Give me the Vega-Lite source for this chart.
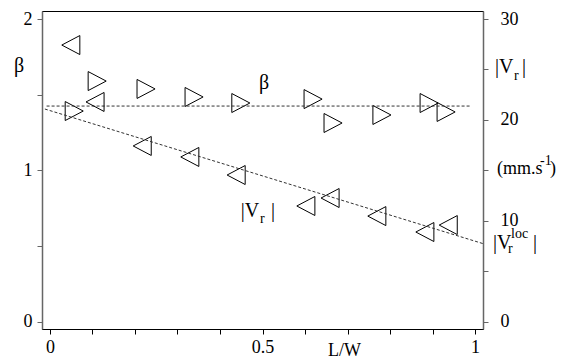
{
  "$schema": "https://vega.github.io/schema/vega-lite/v6.json",
  "width": 441,
  "height": 318,
  "autosize": {"type": "none"},
  "padding": {"left": 42, "top": 11, "right": 93, "bottom": 31},
  "background": "white",
  "config": {
    "view": {"stroke": "black", "strokeWidth": 1},
    "font": "Liberation Serif, Times New Roman, Times, DejaVu Serif, serif",
    "axis": {"grid": false, "labelFont": "Liberation Serif, Times New Roman, Times, DejaVu Serif, serif", "labelFontSize": 18, "labelColor": "black", "title": null, "tickSize": 5}
  },
  "datasets": {
    "beta": [
      {"x": 0.057, "beta": 1.392},
      {"x": 0.111, "beta": 1.590},
      {"x": 0.226, "beta": 1.538},
      {"x": 0.339, "beta": 1.485},
      {"x": 0.449, "beta": 1.445},
      {"x": 0.619, "beta": 1.471},
      {"x": 0.666, "beta": 1.313},
      {"x": 0.781, "beta": 1.366},
      {"x": 0.892, "beta": 1.445},
      {"x": 0.932, "beta": 1.386}
    ],
    "vr": [
      {"x": 0.049, "vr": 27.42},
      {"x": 0.106, "vr": 21.78},
      {"x": 0.217, "vr": 17.42},
      {"x": 0.329, "vr": 16.33},
      {"x": 0.438, "vr": 14.54},
      {"x": 0.602, "vr": 11.47},
      {"x": 0.659, "vr": 12.26},
      {"x": 0.769, "vr": 10.47},
      {"x": 0.882, "vr": 8.89},
      {"x": 0.937, "vr": 9.58}
    ],
    "betaFit": [
      {"x": -0.008, "beta": 1.425},
      {"x": 0.988, "beta": 1.425}
    ],
    "vrFit": [
      {"x": -0.012, "vr": 21.08},
      {"x": 1.019, "vr": 7.74}
    ],
    "labels": [
      {"x": -0.0847, "b": 1.650, "text": "β", "kind": "main"},
      {"x": 0.4918, "b": 1.5375, "text": "β", "kind": "main"},
      {"x": 0.449, "b": 0.692, "text": "|V", "kind": "main"},
      {"x": 0.4941, "b": 0.652, "text": "r", "kind": "sub"},
      {"x": 0.520, "b": 0.692, "text": "|", "kind": "main"},
      {"x": 1.0471, "b": 1.6432, "text": "|V", "kind": "main"},
      {"x": 1.0918, "b": 1.597, "text": "r", "kind": "sub"},
      {"x": 1.1106, "b": 1.6432, "text": "|", "kind": "main"},
      {"x": 1.0518, "b": 0.9759, "text": "(mm.s", "kind": "unit"},
      {"x": 1.1529, "b": 1.0354, "text": "-1", "kind": "sup"},
      {"x": 1.1765, "b": 0.9759, "text": ")", "kind": "unit"},
      {"x": 1.0424, "b": 0.4803, "text": "|V", "kind": "main"},
      {"x": 1.0776, "b": 0.4539, "text": "r", "kind": "sub"},
      {"x": 1.0847, "b": 0.553, "text": "loc", "kind": "sup"},
      {"x": 1.1365, "b": 0.4803, "text": "|", "kind": "main"},
      {"x": 0.654, "b": -0.2266, "text": "L/W", "kind": "unit"}
    ]
  },
  "layer": [
    {
      "layer": [
        {
          "data": {"name": "beta"},
          "mark": {"type": "point", "shape": "M-0.95,-1L0.95,0L-0.95,1Z", "size": 361, "filled": false, "stroke": "black", "strokeWidth": 1, "opacity": 1},
          "encoding": {
            "x": {"field": "x", "type": "quantitative", "scale": {"domain": [-0.0188, 1.0188], "nice": false, "zero": false},
              "axis": {"orient": "bottom", "values": [0, 0.1, 0.2, 0.3, 0.4, 0.5, 0.6, 0.7, 0.8, 0.9, 1], "labelExpr": "datum.value == 0 ? '0' : datum.value == 0.5 ? '0.5' : datum.value == 1 ? '1' : ''", "domainColor": "black", "tickColor": "black", "labelPadding": 4}},
            "y": {"field": "beta", "type": "quantitative", "scale": {"domain": [-0.048, 2.053], "nice": false, "zero": false},
              "axis": {"orient": "left", "values": [0, 0.5, 1, 1.5, 2], "labelExpr": "datum.value == 0 ? '0' : datum.value == 1 ? '1' : datum.value == 2 ? '2' : ''", "domainColor": "#666", "domainWidth": 1.5, "tickColor": "#666", "labelPadding": 5}}
          }
        },
        {
          "data": {"name": "betaFit"},
          "mark": {"type": "line", "stroke": "#333", "strokeWidth": 1, "strokeDash": [3, 2]},
          "encoding": {
            "x": {"field": "x", "type": "quantitative"},
            "y": {"field": "beta", "type": "quantitative"}
          }
        },
        {
          "data": {"name": "labels"},
          "transform": [{"filter": "datum.kind == 'main'"}],
          "mark": {"type": "text", "align": "left", "baseline": "alphabetic", "fontSize": 20, "font": "Liberation Serif, Times New Roman, Times, DejaVu Serif, serif", "fill": "black"},
          "encoding": {
            "x": {"field": "x", "type": "quantitative"},
            "y": {"field": "b", "type": "quantitative"},
            "text": {"field": "text"}
          }
        },
        {
          "data": {"name": "labels"},
          "transform": [{"filter": "datum.kind == 'unit'"}],
          "mark": {"type": "text", "align": "left", "baseline": "alphabetic", "fontSize": 18, "font": "Liberation Serif, Times New Roman, Times, DejaVu Serif, serif", "fill": "black"},
          "encoding": {
            "x": {"field": "x", "type": "quantitative"},
            "y": {"field": "b", "type": "quantitative"},
            "text": {"field": "text"}
          }
        },
        {
          "data": {"name": "labels"},
          "transform": [{"filter": "datum.kind == 'sub' || datum.kind == 'sup'"}],
          "mark": {"type": "text", "align": "left", "baseline": "alphabetic", "fontSize": 14, "font": "Liberation Serif, Times New Roman, Times, DejaVu Serif, serif", "fill": "black"},
          "encoding": {
            "x": {"field": "x", "type": "quantitative"},
            "y": {"field": "b", "type": "quantitative"},
            "text": {"field": "text"}
          }
        }
      ]
    },
    {
      "layer": [
        {
          "data": {"name": "vr"},
          "mark": {"type": "point", "shape": "M0.95,-1L-0.95,0L0.95,1Z", "size": 361, "filled": false, "stroke": "black", "strokeWidth": 1, "opacity": 1},
          "encoding": {
            "x": {"field": "x", "type": "quantitative"},
            "y": {"field": "vr", "type": "quantitative", "scale": {"domain": [-0.72, 30.795], "nice": false, "zero": false},
              "axis": {"orient": "right", "values": [0, 5, 10, 15, 20, 25, 30], "labelExpr": "datum.value % 10 == 0 ? datum.label : ''", "domainColor": "#666", "domainWidth": 1.5, "tickColor": "#666", "labelPadding": 12}}
          }
        },
        {
          "data": {"name": "vrFit"},
          "mark": {"type": "line", "stroke": "#333", "strokeWidth": 1, "strokeDash": [3, 2]},
          "encoding": {
            "x": {"field": "x", "type": "quantitative"},
            "y": {"field": "vr", "type": "quantitative"}
          }
        }
      ]
    }
  ],
  "resolve": {"scale": {"y": "independent"}, "axis": {"y": "independent"}}
}
